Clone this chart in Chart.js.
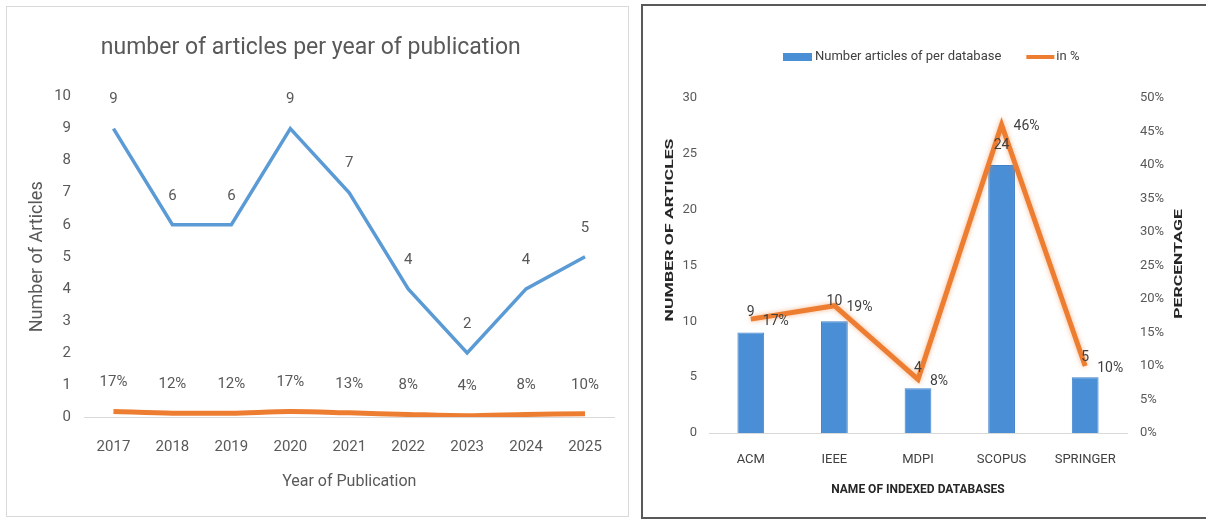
<!DOCTYPE html>
<html>
<head>
<meta charset="utf-8">
<script src="https://cdn.jsdelivr.net/npm/chart.js@4.4.1/dist/chart.umd.min.js"></script>
<style>
  body { margin: 0; background: #fff; width: 1206px; height: 520px; position: relative; overflow: hidden; }
  .panel { position: absolute; box-sizing: border-box; background: #fff; }
  #left  { left: 6px; top: 6px; width: 623px; height: 511px; border: 1px solid #d9d9d9; }
  #right { left: 641px; top: 4px; width: 567px; height: 515px; border: 2px solid #595959; border-right: none; }
  canvas { display: block; }
</style>
</head>
<body>
<div class="panel" id="left"><canvas id="yearChart" width="621" height="509"></canvas></div>
<div class="panel" id="right"><canvas id="dbChart" width="565" height="511"></canvas></div>

<script>
// ---- data ----
const years = ['2017', '2018', '2019', '2020', '2021', '2022', '2023', '2024', '2025'];
const articlesPerYear = [9, 6, 6, 9, 7, 4, 2, 4, 5];
const sharePerYear = [17, 12, 12, 17, 13, 8, 4, 8, 10];   // % of all articles

const databases = ['ACM', 'IEEE', 'MDPI', 'SCOPUS', 'SPRINGER'];
const articlesPerDb = [9, 10, 4, 24, 5];
const sharePerDb = [17, 19, 8, 46, 10];                   // in %

const FONT = "Roboto, 'Liberation Sans', sans-serif";
Chart.defaults.font.family = FONT;

// draws the value next to every point / bar
const valueLabels = {
  id: 'valueLabels',
  beforeDatasetDraw(chart, args) {
    const ds = chart.data.datasets[args.index];
    if (!ds.glow) return;
    chart.ctx.save();
    chart.ctx.shadowColor = ds.glow;
    chart.ctx.shadowBlur = 5;
  },
  afterDatasetDraw(chart, args) {
    if (chart.data.datasets[args.index].glow) chart.ctx.restore();
  },
  afterDatasetsDraw(chart) {
    const ctx = chart.ctx;
    chart.data.datasets.forEach((ds, i) => {
      if (!ds.valueText) return;
      const meta = chart.getDatasetMeta(i);
      ctx.save();
      ctx.font = ds.labelFont;
      ctx.fillStyle = ds.labelColor;
      ctx.textAlign = ds.labelAlign;
      ctx.textBaseline = 'middle';
      meta.data.forEach((el, j) => {
        ctx.fillText(ds.valueText[j], el.x + ds.labelDx, el.y + ds.labelDy);
      });
      ctx.restore();
    });
  }
};

// legend + vertical axis titles of the database chart
const dbDecor = {
  id: 'dbDecor',
  afterDraw(chart) {
    const ctx = chart.ctx;
    ctx.save();
    ctx.font = `13px ${FONT}`;
    ctx.textBaseline = 'middle';
    let x = 140;
    const y = 51;
    chart.data.datasets.forEach(ds => {
      if (ds.type === 'bar') {
        ctx.fillStyle = ds.backgroundColor;
        ctx.fillRect(x, y - 4, 29, 8);
        x += 32;
      } else {
        ctx.strokeStyle = ds.borderColor;
        ctx.lineWidth = 4;
        ctx.beginPath(); ctx.moveTo(x, y); ctx.lineTo(x + 28, y); ctx.stroke();
        x += 30;
      }
      ctx.fillStyle = '#404040';
      ctx.textAlign = 'left';
      ctx.fillText(ds.label, x, y);
      x += ctx.measureText(ds.label).width + 25;
    });

    ctx.font = `bold 11px ${FONT}`;
    ctx.fillStyle = '#262626';
    ctx.textAlign = 'center';
    [['y', 27, 224], ['y1', 536, 258]].forEach(([id, tx, ty]) => {
      ctx.save();
      ctx.translate(tx, ty);
      ctx.rotate(-Math.PI / 2);
      ctx.scale(1.6, 1);
      ctx.fillText(chart.scales[id].options.title.text, 0, 0);
      ctx.restore();
    });
    ctx.restore();
  }
};

// ---- left: articles per year ----
new Chart(document.getElementById('yearChart'), {
  type: 'line',
  data: {
    labels: years,
    datasets: [{
      label: 'Number of Articles',
      data: articlesPerYear,
      borderColor: '#5B9BD5', borderWidth: 3.5, pointRadius: 0, tension: 0,
      valueText: articlesPerYear.map(String),
      labelFont: `15px ${FONT}`, labelColor: '#595959', labelAlign: 'center', labelDx: 0, labelDy: -29
    }, {
      label: 'in %',
      data: sharePerYear.map(v => v / 100),
      borderColor: '#ED7D31', borderWidth: 5, pointRadius: 0, tension: 0.3,
      valueText: sharePerYear.map(v => v + '%'),
      labelFont: `15px ${FONT}`, labelColor: '#595959', labelAlign: 'center', labelDx: 0, labelDy: -29
    }]
  },
  options: {
    responsive: false,
    animation: false,
    layout: { padding: { top: 0, right: 13.5, bottom: 22, left: 0 } },
    plugins: {
      legend: { display: false },
      tooltip: { enabled: false },
      title: {
        display: true,
        text: 'number of articles per year of publication',
        color: '#595959',
        font: { size: 23, weight: 'normal' },
        padding: { top: 27, bottom: 35 }
      }
    },
    scales: {
      x: {
        offset: true,
        grid: { display: false, drawTicks: false },
        border: { color: '#d9d9d9' },
        ticks: { color: '#595959', font: { size: 15 }, padding: 21 },
        title: { display: true, text: 'Year of Publication', color: '#595959', font: { size: 16 }, padding: { top: 0, bottom: 2 } },
        afterFit: s => { s.height = 77; }
      },
      y: {
        min: 0, max: 10,
        ticks: { stepSize: 1, color: '#595959', font: { size: 15 }, padding: 13 },
        grid: { display: false, drawTicks: false },
        border: { display: false },
        title: { display: true, text: 'Number of Articles', color: '#595959', font: { size: 18 }, padding: { top: 20, bottom: 0 } },
        afterFit: s => { s.width = 77; }
      }
    }
  },
  plugins: [valueLabels]
});

// ---- right: articles per database ----
new Chart(document.getElementById('dbChart'), {
  data: {
    labels: databases,
    datasets: [{
      type: 'bar',
      label: 'Number articles of per database',
      data: articlesPerDb,
      yAxisID: 'y',
      order: 2,
      backgroundColor: '#4A8FD6',
      borderColor: '#3F82CC', borderWidth: 1,
      categoryPercentage: 0.8, barPercentage: 0.4,
      valueText: articlesPerDb.map(String),
      labelFont: `14px ${FONT}`, labelColor: '#404040', labelAlign: 'center', labelDx: 0, labelDy: -20
    }, {
      type: 'line',
      label: 'in %',
      data: sharePerDb,
      yAxisID: 'y1',
      order: 1,
      borderColor: '#ED7D31', borderWidth: 5, pointRadius: 0, tension: 0,
      glow: 'rgba(237,125,49,0.55)',
      valueText: sharePerDb.map(v => v + '%'),
      labelFont: `14px ${FONT}`, labelColor: '#404040', labelAlign: 'left', labelDx: 12, labelDy: 2
    }]
  },
  options: {
    responsive: false,
    animation: false,
    layout: { padding: { top: 92, right: 0, bottom: 14, left: 0 } },
    plugins: {
      legend: { display: false },
      tooltip: { enabled: false }
    },
    scales: {
      x: {
        grid: { display: false, drawTicks: false },
        border: { color: '#d9d9d9' },
        ticks: { color: '#404040', font: { size: 13 }, padding: 19 },
        title: { display: true, text: 'NAME OF INDEXED DATABASES', color: '#262626', font: { size: 12, weight: 'bold' }, padding: { top: 0, bottom: 6 } },
        afterFit: s => { s.height = 70; }
      },
      y: {
        position: 'left',
        min: 0, max: 30,
        ticks: { stepSize: 5, color: '#595959', font: { size: 13 }, padding: 12 },
        grid: { display: false, drawTicks: false },
        border: { display: false },
        title: { display: false, text: 'NUMBER OF ARTICLES' },
        afterFit: s => { s.width = 66; }
      },
      y1: {
        position: 'right',
        min: 0, max: 50,
        ticks: { stepSize: 5, color: '#595959', font: { size: 13 }, padding: 13, callback: v => v + '%' },
        grid: { display: false, drawTicks: false },
        border: { display: false },
        title: { display: false, text: 'PERCENTAGE' },
        afterFit: s => { s.width = 81; }
      }
    }
  },
  plugins: [valueLabels, dbDecor]
});
</script>
</body>
</html>
